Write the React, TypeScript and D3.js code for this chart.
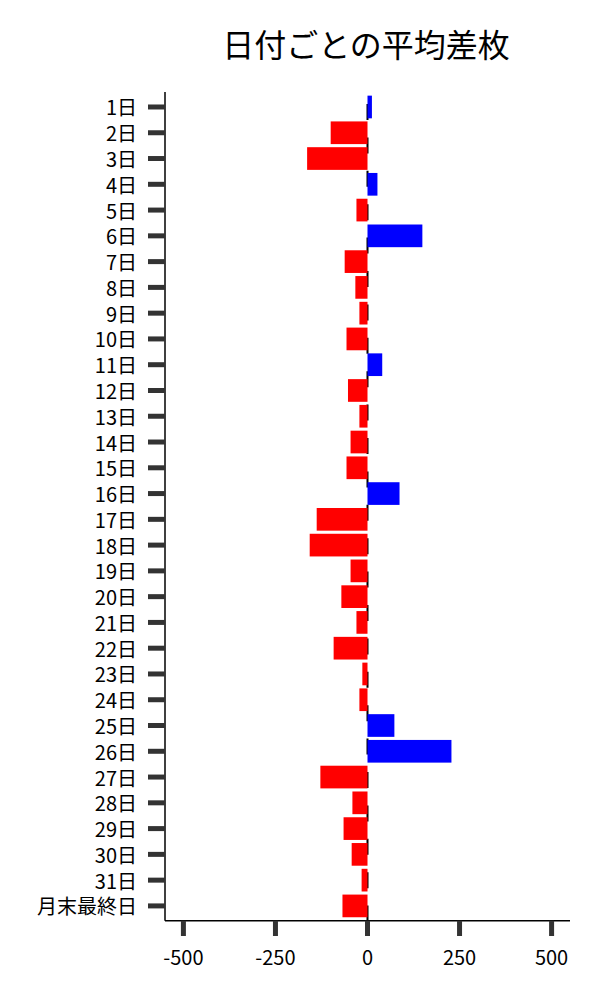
import React from "react";
import * as d3 from "d3";

const categories = [
  "1日","2日","3日","4日","5日","6日","7日","8日","9日","10日",
  "11日","12日","13日","14日","15日","16日","17日","18日","19日","20日",
  "21日","22日","23日","24日","25日","26日","27日","28日","29日","30日",
  "31日","月末最終日",
];
const values = [
  12, -100, -164, 27, -30, 149, -62, -33, -22, -57,
  40, -53, -22, -46, -57, 87, -138, -157, -46, -71,
  -30, -92, -14, -22, 73, 228, -128, -41, -65, -43,
  -16, -68,
];
const xTicks = [-500, -250, 0, 250, 500];
const title = "日付ごとの平均差枚";

const FONT = "'Noto Sans CJK JP', 'Noto Sans', sans-serif";

export default function App() {
  const W = 600, H = 1000;
  const left = 165, right = 570, top = 92, bottom = 920.7;
  const x = d3.scaleLinear().domain([-550, 550]).range([left, right]);
  const y = d3
    .scaleBand<string>()
    .domain(categories)
    .range([94.1, 918.8])
    .paddingInner(0.12)
    .paddingOuter(0.06);
  const bw = y.bandwidth();
  const x0 = x(0);
  return (
    <svg
      width={W}
      height={H}
      style={{ position: "absolute", left: 0, top: 0, background: "#fff" }}
      fontFamily={FONT}
    >
      <text x={366} y={42.5} textAnchor="middle" dominantBaseline="central" fontSize={32} fill="#000">
        {title}
      </text>
      {/* zero dashed line */}
      <line
        x1={x0}
        x2={x0}
        y1={top}
        y2={bottom}
        stroke="#000"
        strokeWidth={2}
        strokeDasharray="16 17.4"
        strokeDashoffset={21.4}
      />
      {categories.map((c, i) => {
        const v = values[i];
        const yy = y(c)!;
        return (
          <rect
            key={c}
            x={Math.min(x(v), x0)}
            y={yy}
            width={Math.abs(x(v) - x0)}
            height={bw}
            fill={v >= 0 ? "#0000ff" : "#ff0000"}
          />
        );
      })}
      {/* spines */}
      <line x1={left} x2={left} y1={top} y2={bottom} stroke="#000" strokeWidth={1.5} />
      <line x1={left} x2={right} y1={bottom} y2={bottom} stroke="#000" strokeWidth={1.5} />
      {/* y ticks */}
      {categories.map((c) => {
        const cy = y(c)! + bw / 2;
        return (
          <g key={"t" + c}>
            <line x1={148} x2={left} y1={cy} y2={cy} stroke="#333" strokeWidth={5} />
            <text x={137} y={cy} textAnchor="end" dominantBaseline="central" fontSize={20} fill="#000">
              {c}
            </text>
          </g>
        );
      })}
      {/* x ticks */}
      {xTicks.map((t) => (
        <g key={"x" + t}>
          <line x1={x(t)} x2={x(t)} y1={bottom} y2={936} stroke="#333" strokeWidth={5} />
          <text x={x(t)} y={956} textAnchor="middle" dominantBaseline="central" fontSize={20} fill="#000">
            {String(t)}
          </text>
        </g>
      ))}
    </svg>
  );
}
